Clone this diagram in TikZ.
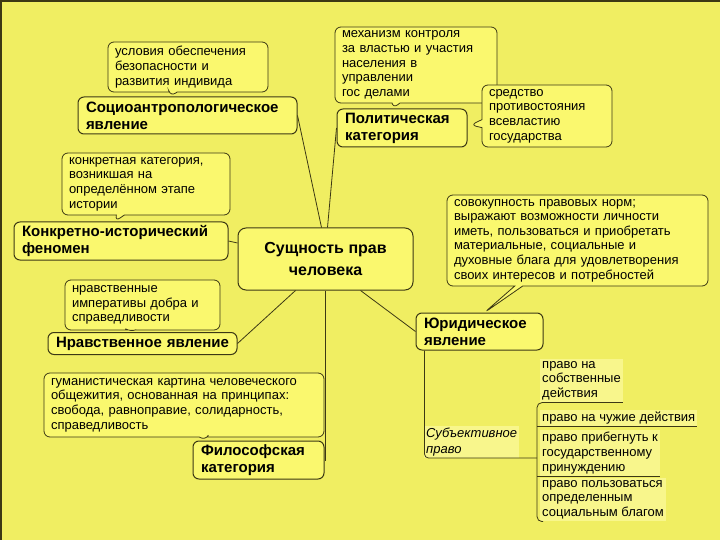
\documentclass[tikz,border=0pt]{standalone}
\usepackage{fontspec}
\setmainfont{Liberation Sans}
\usetikzlibrary{shapes.callouts,calc}
\definecolor{field}{RGB}{240,238,98}
\definecolor{card}{RGB}{250,248,110}
\definecolor{note}{RGB}{248,246,140}
\definecolor{rim}{RGB}{60,56,20}
\tikzset{
  topic/.style={draw=rim,fill=card,rounded corners=6pt,line width=1pt,align=left,
    font=\fontsize{15}{17}\selectfont\bfseries,inner xsep=8pt},
  hint/.style={rectangle callout,draw=rim,fill=card,rounded corners=6pt,line width=0.8pt,
    align=left,font=\fontsize{13}{14.6}\selectfont,inner xsep=7pt,callout pointer width=8pt},
  twig/.style={draw=rim,line width=0.8pt},
  leaf/.style={fill=note,align=left,font=\fontsize{13}{14.8}\selectfont,inner sep=2pt,anchor=north west},
}

\begin{document}
\begin{tikzpicture}[x=1pt,y=-1pt]
  \fill[field] (0,0) rectangle (720,540);
  \useasboundingbox (0,0) rectangle (720,540);
  \draw[rim,line width=2pt] (1,540) -- (1,1) -- (720,1);

  % main topics
  \node[topic,align=center,font=\fontsize{16}{22}\selectfont\bfseries,minimum width=175pt,
    minimum height=62pt,rounded corners=8pt] (core) at (325.5,259) {Сущность прав\\человека};
  \node[topic,text width=203pt,minimum height=37pt] (socio) at (187.5,115.5) {Социоантропологическое\\явление};
  \node[topic,text width=114pt,minimum height=38pt] (polit) at (402,128) {Политическая\\категория};
  \node[topic,text width=198pt,minimum height=38pt] (konkr) at (121,241) {Конкретно-исторический\\феномен};
  \node[topic,text width=173pt,minimum height=22pt,inner ysep=2pt] (moral) at (142.5,343.5) {Нравственное явление};
  \node[topic,text width=115pt,minimum height=38pt] (philo) at (258.5,460) {Философская\\категория};
  \node[topic,text width=111pt,minimum height=37pt] (legal) at (479.5,331.5) {Юридическое\\явление};

  % callouts
  \node[hint,text width=146pt,minimum height=50pt,callout absolute pointer={([xshift=-17pt]socio.north)}]
    (socionote) at (188,67) {условия обеспечения\\безопасности и\\развития индивида};
  \node[hint,text width=148pt,minimum height=76pt,callout absolute pointer={([xshift=-9pt]polit.north)}]
    (politnote) at (416,65) {механизм контроля\\за властью и участия\\населения в\\управлении\\гос делами};
  \node[hint,text width=116pt,minimum height=62pt,callout absolute pointer={([xshift=3pt,yshift=3pt]polit.east)}]
    (powernote) at (547,116) {средство\\противостояния\\всевластию\\государства};
  \node[hint,text width=154pt,minimum height=62pt,callout absolute pointer={([xshift=-6pt]konkr.north)}]
    (konkrnote) at (146,184) {конкретная категория,\\возникшая на\\определённом этапе\\истории};
  \node[hint,text width=141pt,minimum height=50pt,callout absolute pointer={([xshift=-12pt]moral.north)}]
    (moralnote) at (142.5,305) {нравственные\\императивы добра и\\справедливости};
  \node[hint,text width=266pt,minimum height=64pt,callout absolute pointer={([xshift=-53pt]philo.north)}]
    (philonote) at (184,405) {гуманистическая картина человеческого\\общежития, основанная на принципах:\\свобода, равноправие, солидарность,\\справедливость};
  \node[hint,text width=247pt,minimum height=91pt,callout absolute pointer={([xshift=5pt]legal.north)}]
    (legalnote) at (577.5,240.5) {совокупность правовых норм;\\выражают возможности личности\\иметь, пользоваться и приобретать\\материальные, социальные и\\духовные блага для удовлетворения\\своих интересов и потребностей};

  % links from the core
  \draw[twig] ([xshift=-4pt]core.north) -- (socio.east);
  \draw[twig] ([xshift=2pt]core.north) -- (polit.west);
  \draw[twig] ([yshift=16pt]core.west) -- (konkr.east);
  \draw[twig] ([xshift=-30pt]core.south) -- (moral.east);
  \draw[twig] (core.south) |- (philo.east);
  \draw[twig] ([xshift=35pt]core.south) -- (legal.west);

  % subjective right
  \node[leaf,anchor=south west,font=\fontsize{13}{15.5}\selectfont\itshape] (subj) at (424,458) {Субъективное\\право};
  \coordinate (fork) at (537,458);
  \draw[twig,rounded corners=4pt] ([xshift=-55pt]legal.south) |- (fork);

  \node[leaf] (own) at (540,359) {право на\\собственные\\действия};
  \node[leaf] (alien) at (540,410) {право на чужие действия};
  \node[leaf] (force) at (540,430) {право прибегнуть к\\государственному\\принуждению};
  \node[leaf] (goods) at (540,478) {право пользоваться\\определенным\\социальным благом};
  \draw[twig,rounded corners=5pt] (own.south east) -- ([xshift=-3pt]own.south west) -- ([xshift=-3pt]goods.south west) -- ++(6,0);
  \draw[twig] ([xshift=-3pt]alien.south west) -- (alien.south east);
  \draw[twig] ([xshift=-3pt]force.south west) -- (force.south east);
\end{tikzpicture}
\end{document}
